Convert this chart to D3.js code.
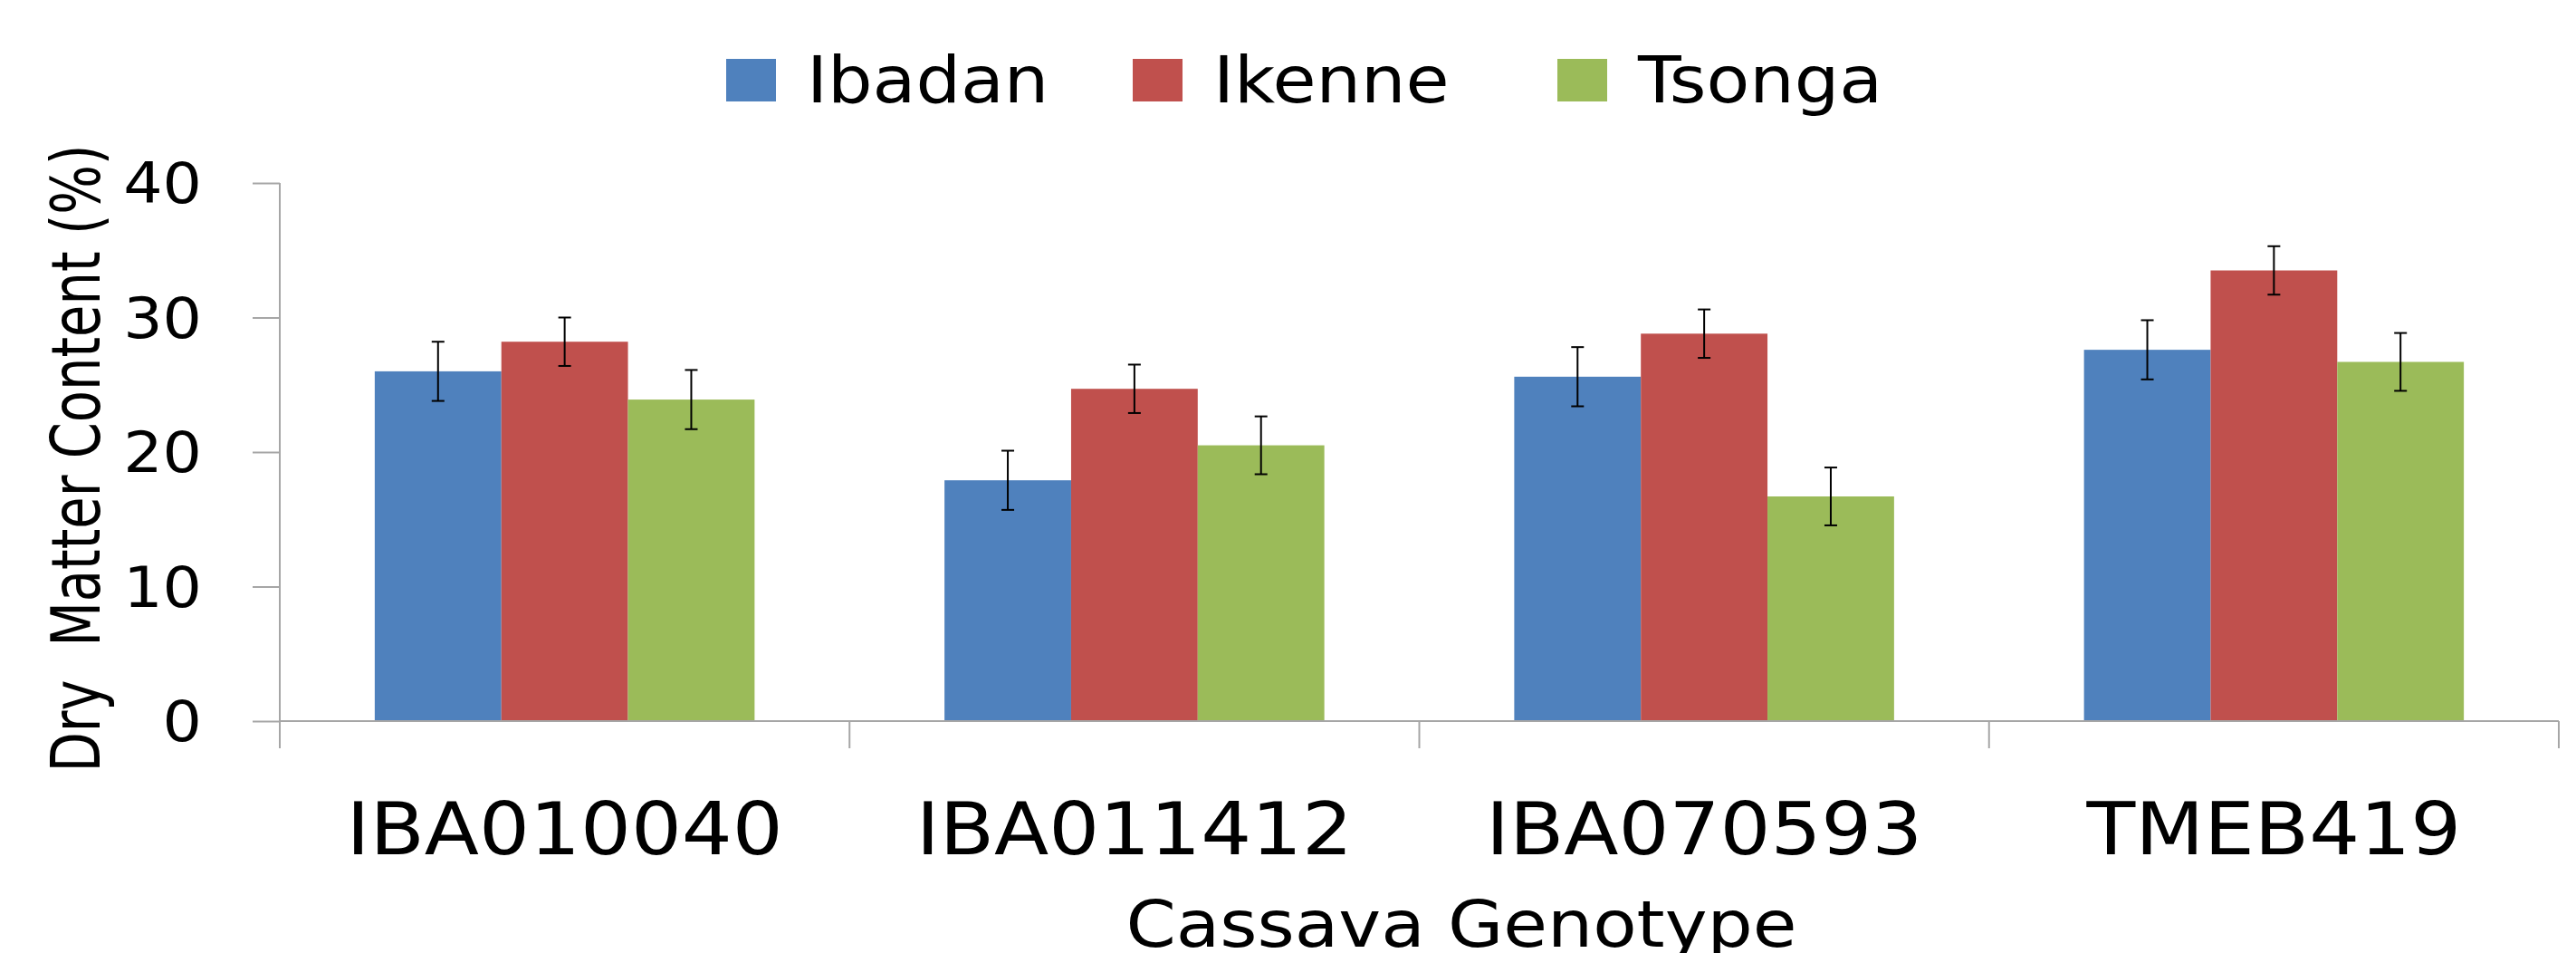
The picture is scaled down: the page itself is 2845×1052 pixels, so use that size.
<!DOCTYPE html>
<html>
<head>
<meta charset="utf-8">
<script src="https://cdn.jsdelivr.net/npm/d3@7"></script>
<style>
  html, body { margin: 0; padding: 0; background: #ffffff; }
  svg { display: block; }
  text { font-family: "DejaVu Sans", sans-serif; fill: #000; }
</style>
</head>
<body>
<svg id="chart" width="2845" height="1052"></svg>
<script>
// ---------- data ----------
const categories = ["IBA010040", "IBA011412", "IBA070593", "TMEB419"];
const seriesNames = ["Ibadan", "Ikenne", "Tsonga"];
const ibadan = [26.0, 17.9, 25.6, 27.6];
const ikenne = [28.2, 24.7, 28.8, 33.5];
const tsonga = [23.9, 20.5, 16.7, 26.7];
const ibadanErr = [2.2, 2.2, 2.2, 2.2];
const ikenneErr = [1.8, 1.8, 1.8, 1.8];
const tsongaErr = [2.2, 2.15, 2.15, 2.15];
const yTicks = [0, 10, 20, 30, 40];
const yTitle = "Dry  Matter Content (%)";
const xTitle = "Cassava Genotype";
const colors = ["#4F81BD", "#C0504D", "#9BBB59"];

const values = [ibadan, ikenne, tsonga];
const errors = [ibadanErr, ikenneErr, tsongaErr];
const rows = categories.map((c, ci) => ({
  cat: c,
  bars: seriesNames.map((s, si) => ({ s, si, v: values[si][ci], e: errors[si][ci] }))
}));

// ---------- layout ----------
const svg = d3.select("#chart");
const pLeft = 309, pRight = 2826, pTop = 202, pBottom = 796;
const SX = 1.1; // horizontal text stretch
const axisColor = "#a6a6a6";

svg.append("rect").attr("width", 2845).attr("height", 1052).attr("fill", "#fff");

const x0 = d3.scaleBand().domain(categories).range([pLeft, pRight]).padding(0);
const x1 = d3.scaleBand().domain(seriesNames).range([0, x0.bandwidth()])
  .paddingInner(0).paddingOuter(0.75);
const y = d3.scaleLinear().domain([0, 40]).range([pBottom, pTop]);
const color = d3.scaleOrdinal().domain(seriesNames).range(colors);

// ---------- bars ----------
const groups = svg.append("g").selectAll("g").data(rows).join("g")
  .attr("transform", d => `translate(${x0(d.cat)},0)`);

groups.selectAll("rect").data(d => d.bars).join("rect")
  .attr("x", d => x1(d.s))
  .attr("width", x1.bandwidth())
  .attr("y", d => y(d.v))
  .attr("height", d => y(0) - y(d.v))
  .attr("fill", d => color(d.s));

// ---------- error bars ----------
const capW = 14;
const eb = groups.selectAll("g.err").data(d => d.bars).join("g").attr("class", "err")
  .attr("stroke", "#000").attr("stroke-width", 2);
eb.append("line")
  .attr("x1", d => x1(d.s) + x1.bandwidth() / 2)
  .attr("x2", d => x1(d.s) + x1.bandwidth() / 2)
  .attr("y1", d => y(d.v + d.e)).attr("y2", d => y(d.v - d.e));
eb.append("line")
  .attr("x1", d => x1(d.s) + x1.bandwidth() / 2 - capW / 2)
  .attr("x2", d => x1(d.s) + x1.bandwidth() / 2 + capW / 2)
  .attr("y1", d => y(d.v + d.e)).attr("y2", d => y(d.v + d.e));
eb.append("line")
  .attr("x1", d => x1(d.s) + x1.bandwidth() / 2 - capW / 2)
  .attr("x2", d => x1(d.s) + x1.bandwidth() / 2 + capW / 2)
  .attr("y1", d => y(d.v - d.e)).attr("y2", d => y(d.v - d.e));

// ---------- y axis ----------
const yAxis = d3.axisLeft(y).tickValues(yTicks).tickSize(30).tickSizeOuter(0).tickPadding(0);
const yg = svg.append("g").attr("transform", `translate(${pLeft},0)`).call(yAxis);
yg.select(".domain").attr("stroke", axisColor).attr("stroke-width", 2)
  .attr("d", `M0,${pTop}V${pBottom + 30}`);
yg.selectAll(".tick line").attr("stroke", axisColor).attr("stroke-width", 2);
yg.selectAll(".tick text")
  .attr("x", 0).attr("dy", "0.35em")
  .attr("transform", `translate(${223 - pLeft},0) scale(${SX},1)`)
  .attr("text-anchor", "end")
  .style("font-family", "DejaVu Sans").style("font-size", "62px").attr("fill", "#000");

// ---------- x axis ----------
const xAxis = d3.axisBottom(x0).tickSize(0).tickPadding(0);
const xg = svg.append("g").attr("transform", `translate(0,${pBottom})`).call(xAxis);
xg.select(".domain").attr("stroke", axisColor).attr("stroke-width", 2)
  .attr("d", `M${pLeft},0H${pRight}`);
xg.selectAll(".tick text")
  .attr("y", 0).attr("dy", 0)
  .attr("transform", `translate(0,${943 - pBottom}) scale(${SX},1)`)
  .style("font-family", "DejaVu Sans").style("font-size", "80px").attr("fill", "#000");
// boundary ticks
const boundaries = categories.map(c => x0(c)).concat([x0.range()[1]]);
xg.selectAll("line.bnd").data(boundaries).join("line").attr("class", "bnd")
  .attr("x1", d => d).attr("x2", d => d).attr("y1", 0).attr("y2", 30)
  .attr("stroke", axisColor).attr("stroke-width", 2);

// ---------- titles ----------
svg.append("text")
  .attr("transform", `translate(110,506) scale(${SX},1) rotate(-90)`)
  .attr("text-anchor", "middle")
  .attr("textLength", 693).attr("lengthAdjust", "spacingAndGlyphs")
  .style("font-size", "68px")
  .style("white-space", "pre")
  .text(yTitle);

svg.append("text")
  .attr("transform", `translate(1614,1045) scale(${SX},1)`)
  .attr("text-anchor", "middle")
  .style("font-size", "72px")
  .text(xTitle);

// ---------- legend ----------
const legendX = [802, 1251, 1720];
const lg = svg.append("g").selectAll("g").data(seriesNames).join("g")
  .attr("transform", (d, i) => `translate(${legendX[i]},0)`);
lg.append("rect").attr("x", 0).attr("y", 65).attr("width", 55).attr("height", 47)
  .attr("fill", d => color(d));
lg.append("text")
  .attr("transform", `translate(89,112.7) scale(${SX},1)`)
  .style("font-size", "71px")
  .text(d => d);
</script>
</body>
</html>
